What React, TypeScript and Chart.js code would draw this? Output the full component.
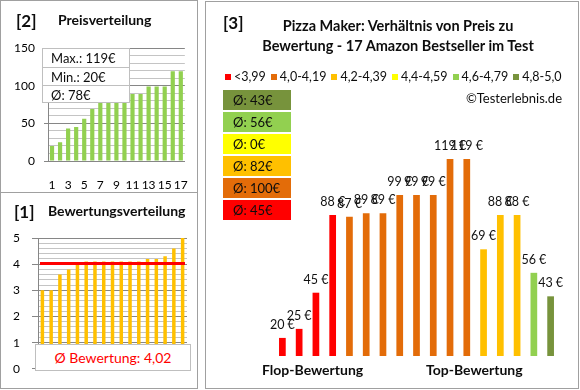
import React, { useEffect, useRef } from "react";
import { Chart, registerables } from "chart.js";
Chart.register(...registerables);

const FONT = "Lato, 'Open Sans', 'DejaVu Sans', sans-serif";

// 17 products, ordered by rating (as in chart [3])
const productPrices = [20, 25, 45, 88, 87, 89, 89, 99, 99, 99, 119, 119, 69, 88, 88, 56, 43];
const productRatings = [3.0, 3.0, 3.6, 3.8, 4.0, 4.1, 4.1, 4.1, 4.1, 4.1, 4.1, 4.1, 4.2, 4.2, 4.3, 4.6, 5.0];
const rankLabels = ["1", "2", "3", "4", "5", "6", "7", "8", "9", "10", "11", "12", "13", "14", "15", "16", "17"];

const ratingGroupLabels = ["<3,99", "4,0-4,19", "4,2-4,39", "4,4-4,59", "4,6-4,79", "4,8-5,0"];
const ratingGroupMins = [0, 4.0, 4.2, 4.4, 4.6, 4.8];
const ratingGroupColors = ["#FF0000", "#E36C09", "#FFC000", "#FFFF00", "#92D050", "#77933C"];

const priceAxisMax = 150;
const ratingAxisMax = 5;

const sortedPrices = [...productPrices].sort((a, b) => a - b);
const maxPrice = Math.max(...productPrices);
const minPrice = Math.min(...productPrices);
const avgPrice = Math.round(productPrices.reduce((a, b) => a + b, 0) / productPrices.length);
const avgRating = productRatings.reduce((a, b) => a + b, 0) / productRatings.length;

const groupOf = (r: number) => {
  let g = 0;
  ratingGroupMins.forEach((m, i) => {
    if (r >= m - 1e-9) g = i;
  });
  return g;
};
const productGroups = productRatings.map(groupOf);
const groupAverages = ratingGroupLabels.map((_, gi) => {
  const ps = productPrices.filter((_, i) => productGroups[i] === gi);
  return ps.length ? Math.round(ps.reduce((a, b) => a + b, 0) / ps.length) : 0;
});

const GRID_MAJOR = "#868686";
const GRID_MINOR = "#C4C4C4";

export default function App() {
  const priceRef = useRef<HTMLCanvasElement>(null);
  const ratingRef = useRef<HTMLCanvasElement>(null);
  const mainRef = useRef<HTMLCanvasElement>(null);

  useEffect(() => {
    const charts: Chart[] = [];
    // [2] Preisverteilung
    charts.push(
      new Chart(priceRef.current!, {
        type: "bar",
        data: {
          labels: rankLabels,
          datasets: [
            {
              data: sortedPrices,
              backgroundColor: "#92D050",
              barPercentage: 0.52,
              categoryPercentage: 1,
            },
          ],
        },
        options: {
          responsive: false,
          animation: false,
          layout: { padding: { top: 47, right: 8, left: 0, bottom: 0 } },
          plugins: { legend: { display: false }, tooltip: { enabled: false } },
          scales: {
            x: {
              grid: { display: false },
              border: { color: GRID_MAJOR },
              ticks: {
                autoSkip: false,
                maxRotation: 0,
                color: "#000",
                font: { family: FONT, size: 12 },
                padding: 9,
                callback: (_v: any, i: number) => (i % 2 === 0 ? rankLabels[i] : ""),
              },
              afterFit: (s: any) => {
                s.height = 31;
              },
            },
            y: {
              min: 0,
              max: priceAxisMax,
              border: { color: GRID_MAJOR },
              grid: {
                color: (c: any) => (c.tick && c.tick.value % 50 === 0 ? GRID_MAJOR : GRID_MINOR),
                tickLength: 4,
                tickColor: (c: any) => (c.tick && c.tick.value % 50 === 0 ? GRID_MAJOR : "rgba(0,0,0,0)"),
              },
              ticks: {
                stepSize: 10,
                autoSkip: false,
                color: "#000",
                font: { family: FONT, size: 12 },
                padding: 9,
                callback: (v: any) => (v % 50 === 0 ? String(v) : ""),
              },
              afterFit: (s: any) => {
                s.width = 47;
              },
            },
          },
        },
      })
    );

    // [1] Bewertungsverteilung
    const avgLine = {
      id: "avgLine",
      afterDatasetsDraw(chart: any) {
        const { ctx, chartArea } = chart;
        const y = chart.scales.y.getPixelForValue(avgRating);
        ctx.save();
        ctx.strokeStyle = "#FF0000";
        ctx.lineWidth = 3;
        ctx.beginPath();
        ctx.moveTo(chartArea.left + 2, y);
        ctx.lineTo(chartArea.right - 2, y);
        ctx.stroke();
        ctx.restore();
      },
    };
    charts.push(
      new Chart(ratingRef.current!, {
        type: "bar",
        data: {
          labels: rankLabels,
          datasets: [
            {
              data: productRatings,
              backgroundColor: "#FFC000",
              barPercentage: 0.4,
              categoryPercentage: 1,
            },
          ],
        },
        options: {
          responsive: false,
          animation: false,
          layout: { padding: { top: 45, right: 10, left: 0, bottom: 0 } },
          plugins: { legend: { display: false }, tooltip: { enabled: false } },
          scales: {
            x: {
              grid: { display: false },
              border: { color: GRID_MAJOR },
              ticks: { display: false },
              afterFit: (s: any) => {
                s.height = 15;
              },
            },
            y: {
              min: 0,
              max: ratingAxisMax,
              border: { color: GRID_MAJOR },
              grid: {
                color: (c: any) =>
                  c.tick && Math.abs(c.tick.value - Math.round(c.tick.value)) < 1e-6 ? GRID_MAJOR : GRID_MINOR,
                tickLength: 6,
                tickColor: (c: any) =>
                  c.tick && Math.abs(c.tick.value - Math.round(c.tick.value)) < 1e-6 ? GRID_MAJOR : "rgba(0,0,0,0)",
              },
              ticks: {
                stepSize: 0.2,
                autoSkip: false,
                color: "#000",
                font: { family: FONT, size: 12 },
                padding: 12,
                callback: (v: any) =>
                  Math.abs(v - Math.round(v)) < 1e-6 ? String(Math.round(v)) : "",
              },
              afterFit: (s: any) => {
                s.width = 37;
              },
            },
          },
        },
        plugins: [avgLine],
      })
    );

    // [3] Preis zu Bewertung
    const priceLabels = {
      id: "priceLabels",
      afterDatasetsDraw(chart: any) {
        const { ctx } = chart;
        const meta = chart.getDatasetMeta(0);
        ctx.save();
        ctx.font = `12.5px ${FONT}`;
        ctx.fillStyle = "#111";
        ctx.textAlign = "center";
        ctx.textBaseline = "alphabetic";
        meta.data.forEach((bar: any, i: number) => {
          ctx.fillText(`${productPrices[i]} €`, bar.x, bar.y - 9);
        });
        ctx.restore();
      },
    };
    charts.push(
      new Chart(mainRef.current!, {
        type: "bar",
        data: {
          labels: rankLabels,
          datasets: [
            {
              data: productPrices,
              backgroundColor: productGroups.map((g) => ratingGroupColors[g]),
              barPercentage: 0.4,
              categoryPercentage: 1,
            },
          ],
        },
        options: {
          responsive: false,
          animation: false,
          layout: { padding: { top: 138, right: 19, left: 68, bottom: 32 } },
          plugins: { legend: { display: false }, tooltip: { enabled: false } },
          scales: {
            x: { display: false },
            y: { display: false, min: 10, max: 130 },
          },
        },
        plugins: [priceLabels],
      })
    );
    return () => charts.forEach((c) => c.destroy());
  }, []);

  const abs = (l: number, t: number, extra: any = {}) => ({ position: "absolute" as const, left: l, top: t, ...extra });
  const text = (l: number, cy: number, size: number, bold: boolean, extra: any = {}) =>
    abs(l, cy - size / 2 - 1, {
      fontSize: size,
      lineHeight: `${size + 2}px`,
      fontWeight: bold ? 700 : 400,
      whiteSpace: "nowrap",
      color: "#0D0D0D",
      ...extra,
    });

  const boxTops = [90, 112, 134, 156, 178, 200];
  const boxGroups = [5, 4, 3, 2, 1, 0];

  return (
    <div
      style={{
        position: "fixed",
        left: 0,
        top: 0,
        width: 580,
        height: 390,
        background: "#fff",
        fontFamily: FONT,
        overflow: "hidden",
      }}
    >
      {/* panel borders */}
      <div style={abs(0, 0, { width: 198, height: 193, border: "1px solid #A0A0A0", boxSizing: "border-box" })} />
      <div style={abs(0, 192, { width: 198, height: 197, border: "1px solid #A0A0A0", boxSizing: "border-box" })} />
      <div style={abs(205, 1, { width: 374, height: 388, border: "1px solid #A0A0A0", boxSizing: "border-box" })} />

      <canvas ref={priceRef} width={196} height={191} style={abs(1, 1, { width: 196, height: 191 })} />
      <canvas ref={ratingRef} width={196} height={195} style={abs(1, 193, { width: 196, height: 195 })} />
      <canvas ref={mainRef} width={372} height={387} style={abs(206, 1, { width: 372, height: 387 })} />

      {/* [2] */}
      <div style={text(16, 20, 17, true)}>[2]</div>
      <div style={text(58, 20, 14, true)}>Preisverteilung</div>
      <div
        style={abs(42, 48, {
          width: 88,
          height: 55,
          background: "#fff",
          border: "1px solid #BFBFBF",
          boxSizing: "border-box",
        })}
      >
        {[`Max.: ${maxPrice}€`, `Min.: ${minPrice}€`, `Ø: ${avgPrice}€`].map((t, i) => (
          <div
            key={i}
            style={{
              height: i < 2 ? 18 : 17,
              lineHeight: "18px",
              fontSize: 13,
              paddingLeft: 8,
              color: "#0D0D0D",
              borderTop: i > 0 ? "1px solid #BFBFBF" : "none",
              boxSizing: "border-box",
            }}
          >
            {t}
          </div>
        ))}
      </div>

      {/* [1] */}
      <div style={text(14, 211, 17, true)}>[1]</div>
      <div style={text(48, 211, 14, true)}>Bewertungsverteilung</div>
      <div
        style={abs(35, 344, {
          width: 156,
          height: 27,
          background: "#fff",
          border: "1px solid #BFBFBF",
          boxSizing: "border-box",
          color: "#FF0000",
          fontSize: 14,
          lineHeight: "25px",
          textAlign: "center",
        })}
      >
        {`Ø Bewertung: ${avgRating.toFixed(2).replace(".", ",")}`}
      </div>

      {/* [3] */}
      <div style={text(223, 22, 17, true)}>[3]</div>
      <div style={text(218, 26, 14.5, true, { width: 360, textAlign: "center" })}>
        Pizza Maker: Verhältnis von Preis zu
      </div>
      <div style={text(218, 46, 14.5, true, { width: 360, textAlign: "center" })}>
        Bewertung - 17 Amazon Bestseller im Test
      </div>
      <div style={abs(225, 69, { display: "flex", gap: 5, fontSize: 12.5, lineHeight: "16px", color: "#0D0D0D" })}>
        {ratingGroupLabels.map((l, i) => (
          <span key={i} style={{ display: "flex", alignItems: "center", whiteSpace: "nowrap" }}>
            <span style={{ width: 6, height: 6, background: ratingGroupColors[i], marginRight: 3, display: "inline-block" }} />
            {l}
          </span>
        ))}
      </div>
      <div style={text(400, 98, 13, false, { width: 162, textAlign: "right" })}>©Testerlebnis.de</div>
      {boxGroups.map((g, i) => (
        <div
          key={g}
          style={abs(223, boxTops[i], {
            width: 68,
            height: 20,
            background: ratingGroupColors[g],
            fontSize: 13,
            lineHeight: "20px",
            paddingLeft: 10,
            boxSizing: "border-box",
            color: "#0D0D0D",
          })}
        >
          {`Ø: ${groupAverages[g]}€`}
        </div>
      ))}
      <div style={text(262, 370, 14, true)}>Flop-Bewertung</div>
      <div style={text(426, 370, 14, true)}>Top-Bewertung</div>
    </div>
  );
}
